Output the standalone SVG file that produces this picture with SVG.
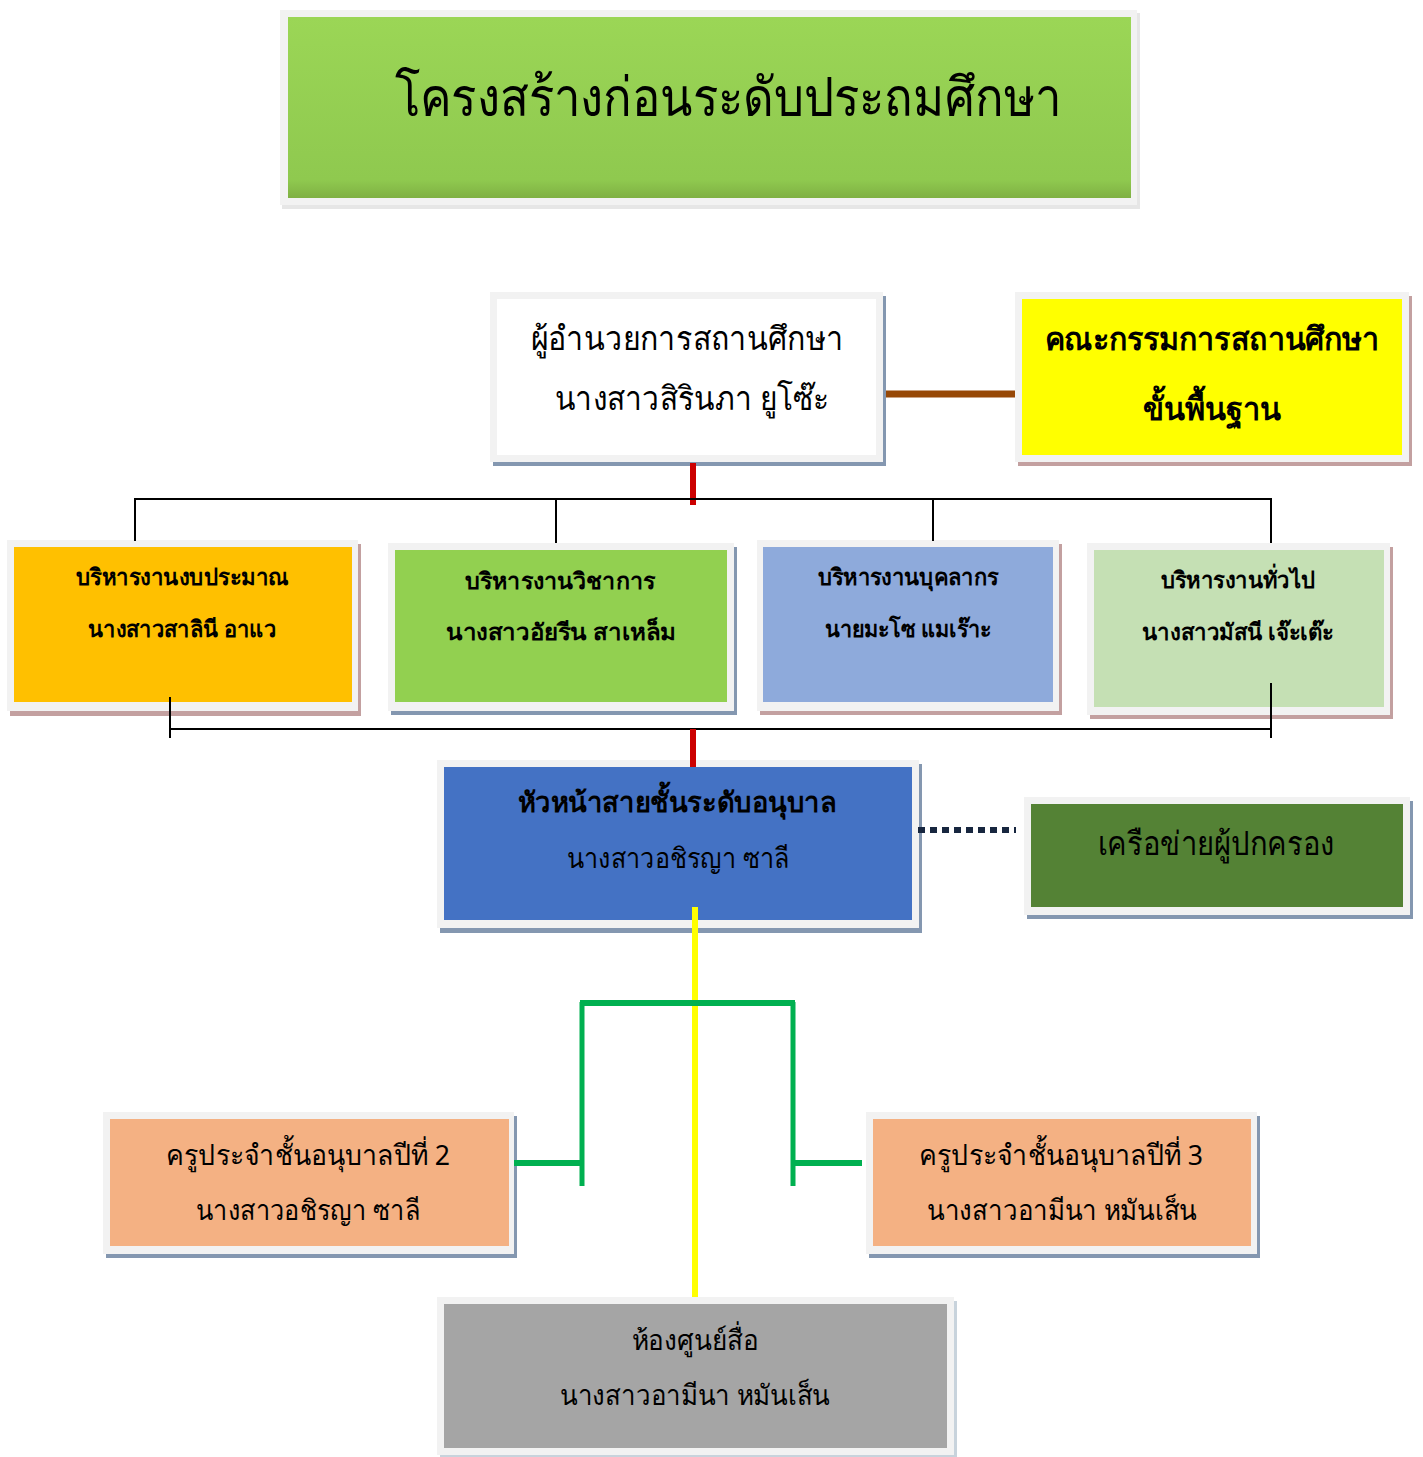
<svg xmlns="http://www.w3.org/2000/svg" width="1423" height="1457" viewBox="0 0 1423 1457">
<style>
text{font-family:"Noto Sans","Liberation Sans",sans-serif;fill:#000;text-anchor:middle}
.frame{fill:#f2f2f2}
.shb{fill:#8497b0}
.shr{fill:#c3a0a0}
.b{font-weight:bold}
</style>
<defs>
<linearGradient id="tg" x1="0" y1="0" x2="0" y2="1">
<stop offset="0" stop-color="#9bd656"/>
<stop offset="0.9" stop-color="#8fc94f"/>
<stop offset="1" stop-color="#7fb043"/>
</linearGradient>
</defs>
<rect width="1423" height="1457" fill="#fff"/>

<g id="title">
<rect x="282" y="13" width="858" height="196" fill="#e6e6e6"/>
<rect class="frame" x="280" y="10" width="857" height="195"/>
<rect x="288" y="17" width="843" height="181" fill="url(#tg)"/>
<text x="728" y="116" font-size="54" textLength="667" lengthAdjust="spacingAndGlyphs">โครงสร้างก่อนระดับประถมศึกษา</text>
</g>

<g id="director">
<rect class="shb" x="493" y="296" width="393" height="170"/>
<rect class="frame" x="490" y="292" width="393" height="170"/>
<rect x="497" y="299" width="379" height="156" fill="#fff"/>
<text x="687" y="350" font-size="33" textLength="313" lengthAdjust="spacingAndGlyphs">ผู้อำนวยการสถานศึกษา</text>
<text x="692" y="410" font-size="33" textLength="275" lengthAdjust="spacingAndGlyphs">นางสาวสิรินภา ยูโซ๊ะ</text>
</g>

<g id="committee">
<rect class="shr" x="1018" y="296" width="394" height="170"/>
<rect class="frame" x="1015" y="292" width="394" height="170"/>
<rect x="1022" y="299" width="380" height="156" fill="#ffff00"/>
<text class="b" x="1212" y="350" font-size="32" textLength="335" lengthAdjust="spacingAndGlyphs">คณะกรรมการสถานศึกษา</text>
<text class="b" x="1212" y="420" font-size="32" textLength="139" lengthAdjust="spacingAndGlyphs">ขั้นพื้นฐาน</text>
</g>

<g id="budget">
<rect class="shr" x="10" y="544" width="351" height="172"/>
<rect class="frame" x="7" y="540" width="351" height="171"/>
<rect x="14" y="547" width="338" height="155" fill="#ffc000"/>
<text class="b" x="182" y="585" font-size="23" textLength="213" lengthAdjust="spacingAndGlyphs">บริหารงานงบประมาณ</text>
<text class="b" x="182" y="637" font-size="23" textLength="188" lengthAdjust="spacingAndGlyphs">นางสาวสาลินี อาแว</text>
</g>

<g id="academic">
<rect class="shb" x="391" y="547" width="346" height="168"/>
<rect class="frame" x="388" y="543" width="346" height="168"/>
<rect x="395" y="550" width="332" height="152" fill="#92d050"/>
<text class="b" x="560" y="589" font-size="23" textLength="190" lengthAdjust="spacingAndGlyphs">บริหารงานวิชาการ</text>
<text class="b" x="561" y="640" font-size="23" textLength="230" lengthAdjust="spacingAndGlyphs">นางสาวอัยรีน สาเหล็ม</text>
</g>

<g id="personnel">
<rect class="shr" x="760" y="544" width="302" height="171"/>
<rect class="frame" x="757" y="540" width="302" height="171"/>
<rect x="763" y="547" width="290" height="155" fill="#8eaadb"/>
<text class="b" x="908" y="585" font-size="23" textLength="181" lengthAdjust="spacingAndGlyphs">บริหารงานบุคลากร</text>
<text class="b" x="908" y="637" font-size="23" textLength="167" lengthAdjust="spacingAndGlyphs">นายมะโซ แมเร๊าะ</text>
</g>

<g id="general">
<rect class="shr" x="1090" y="547" width="303" height="172"/>
<rect class="frame" x="1087" y="543" width="303" height="172"/>
<rect x="1094" y="550" width="290" height="157" fill="#c5e0b4"/>
<text class="b" x="1238" y="588" font-size="23" textLength="155" lengthAdjust="spacingAndGlyphs">บริหารงานทั่วไป</text>
<text class="b" x="1238" y="640" font-size="23" textLength="192" lengthAdjust="spacingAndGlyphs">นางสาวมัสนี เจ๊ะเต๊ะ</text>
</g>

<g id="head">
<rect class="shb" x="440" y="764" width="482" height="169"/>
<rect class="frame" x="437" y="760" width="482" height="168"/>
<rect x="444" y="767" width="468" height="153" fill="#4472c4"/>
<text class="b" x="677" y="812" font-size="28" textLength="319" lengthAdjust="spacingAndGlyphs">หัวหน้าสายชั้นระดับอนุบาล</text>
<text x="678" y="868" font-size="28" fill="#0d1a33" textLength="223" lengthAdjust="spacingAndGlyphs">นางสาวอชิรญา ซาลี</text>
</g>

<g id="parents">
<rect class="shb" x="1027" y="801" width="386" height="118"/>
<rect class="frame" x="1024" y="797" width="386" height="118"/>
<rect x="1031" y="804" width="372" height="103" fill="#548235"/>
<text x="1216" y="855" font-size="33" textLength="237" lengthAdjust="spacingAndGlyphs">เครือข่ายผู้ปกครอง</text>
</g>

<g id="teacher2">
<rect class="shb" x="106" y="1116" width="411" height="142"/>
<rect class="frame" x="103" y="1112" width="411" height="142"/>
<rect x="110" y="1119" width="399" height="127" fill="#f4b183"/>
<text x="308" y="1165" font-size="28" textLength="284" lengthAdjust="spacingAndGlyphs">ครูประจำชั้นอนุบาลปีที่ 2</text>
<text x="308" y="1220" font-size="28" textLength="224" lengthAdjust="spacingAndGlyphs">นางสาวอชิรญา ซาลี</text>
</g>

<g id="teacher3">
<rect class="shb" x="869" y="1116" width="391" height="142"/>
<rect class="frame" x="866" y="1112" width="391" height="142"/>
<rect x="873" y="1119" width="378" height="127" fill="#f4b183"/>
<text x="1061" y="1165" font-size="28" textLength="284" lengthAdjust="spacingAndGlyphs">ครูประจำชั้นอนุบาลปีที่ 3</text>
<text x="1062" y="1220" font-size="28" textLength="270" lengthAdjust="spacingAndGlyphs">นางสาวอามีนา หมันเส็น</text>
</g>

<g id="media">
<rect fill="#c8d3dc" x="440" y="1301" width="517" height="156"/>
<rect class="frame" x="437" y="1297" width="517" height="158"/>
<rect x="444" y="1304" width="503" height="144" fill="#a5a5a5"/>
<text x="695" y="1350" font-size="28" textLength="127" lengthAdjust="spacingAndGlyphs">ห้องศูนย์สื่อ</text>
<text x="695" y="1405" font-size="28" textLength="270" lengthAdjust="spacingAndGlyphs">นางสาวอามีนา หมันเส็น</text>
</g>

<g id="connectors">
<line x1="886" y1="394" x2="1015" y2="394" stroke="#974806" stroke-width="7"/>
<line x1="693" y1="463" x2="693" y2="505" stroke="#cc0000" stroke-width="6"/>
<polyline points="135,541 135,499 1271,499 1271,543" fill="none" stroke="#000" stroke-width="2"/>
<line x1="556" y1="499" x2="556" y2="543" stroke="#000" stroke-width="2"/>
<line x1="933" y1="499" x2="933" y2="541" stroke="#000" stroke-width="2"/>
<line x1="170" y1="697" x2="170" y2="738" stroke="#000" stroke-width="2"/>
<line x1="1271" y1="683" x2="1271" y2="738" stroke="#000" stroke-width="2"/>
<line x1="170" y1="729" x2="1271" y2="729" stroke="#000" stroke-width="2"/>
<line x1="693" y1="729" x2="693" y2="767" stroke="#cc0000" stroke-width="6"/>
<line x1="918" y1="830" x2="1016" y2="830" stroke="#17263f" stroke-width="6" stroke-dasharray="7,5"/>
<line x1="695" y1="907" x2="695" y2="1297" stroke="#ffff00" stroke-width="6"/>
<line x1="580" y1="1003" x2="795" y2="1003" stroke="#00b050" stroke-width="6"/>
<line x1="582" y1="1002" x2="582" y2="1186" stroke="#00b050" stroke-width="5"/>
<line x1="793" y1="1002" x2="793" y2="1186" stroke="#00b050" stroke-width="5"/>
<line x1="514" y1="1163" x2="582" y2="1163" stroke="#00b050" stroke-width="6"/>
<line x1="793" y1="1163" x2="862" y2="1163" stroke="#00b050" stroke-width="6"/>
</g>
</svg>
